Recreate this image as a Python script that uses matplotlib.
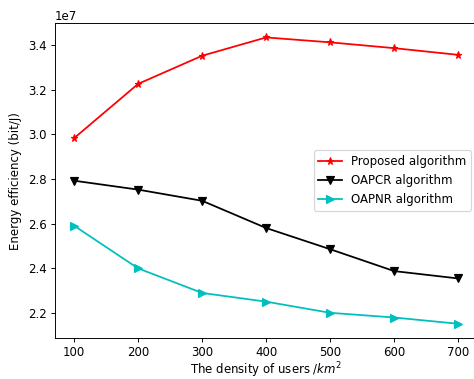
import matplotlib
matplotlib.use("Agg")
import matplotlib.pyplot as plt

density = [100, 200, 300, 400, 500, 600, 700]
proposed = [2.983e7, 3.226e7, 3.352e7, 3.434e7, 3.412e7, 3.386e7, 3.356e7]
oapcr = [2.792e7, 2.752e7, 2.702e7, 2.580e7, 2.485e7, 2.387e7, 2.354e7]
oapnr = [2.590e7, 2.399e7, 2.289e7, 2.250e7, 2.200e7, 2.179e7, 2.151e7]

DPI = 85
fig = plt.figure(figsize=(474 / DPI, 379 / DPI), dpi=DPI)
ax = fig.add_axes([0.116, 0.108, 0.891, 0.831])

ax.plot(density, proposed, color="r", marker="*", label="Proposed algorithm")
ax.plot(density, oapcr, color="k", marker="v", label="OAPCR algorithm")
ax.plot(density, oapnr, color="c", marker=">", label="OAPNR algorithm")

ax.set_xlabel("The density of users /$km^2$", labelpad=1)
ax.set_ylabel("Energy efficiency (bit/J)", labelpad=5)
ax.legend(loc="center right")

fig.savefig("out.png", dpi=DPI)
